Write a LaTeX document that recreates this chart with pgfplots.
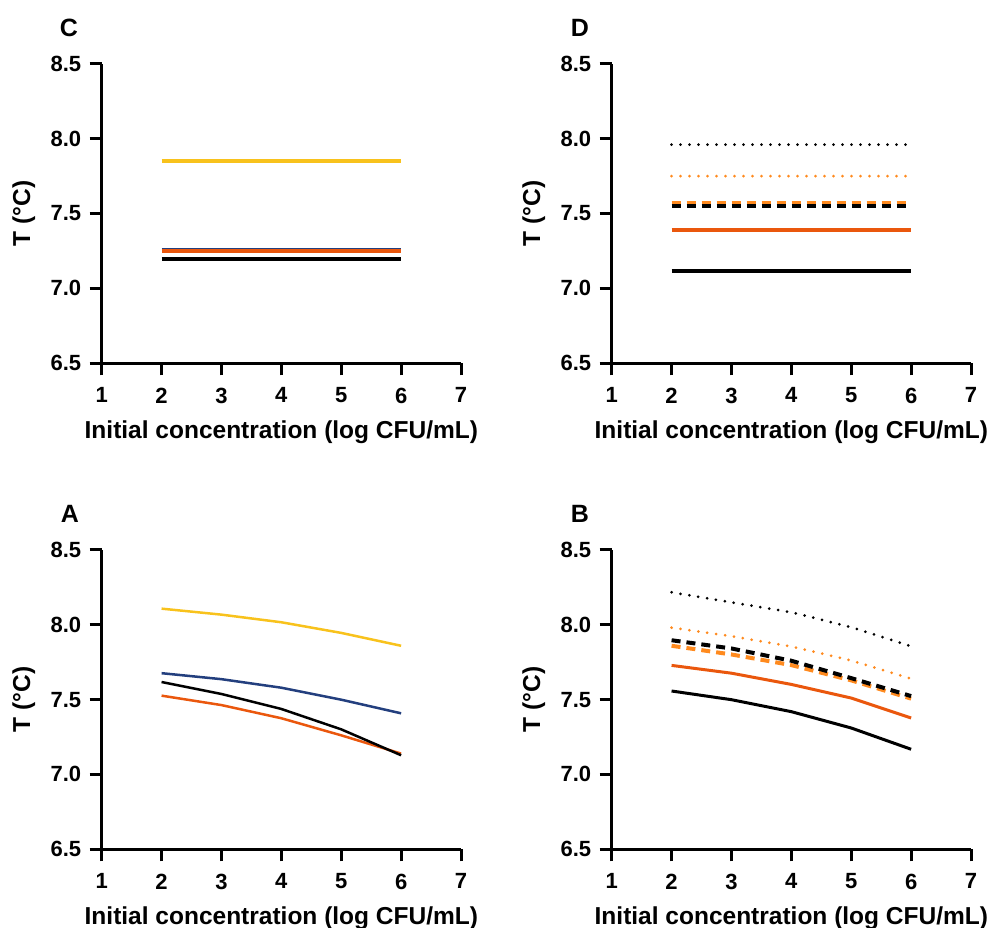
\documentclass[border=0pt]{standalone}
\usepackage{fontspec}
\setmainfont{Liberation Sans}
\usepackage{pgfplots}
\pgfplotsset{compat=1.18}
\definecolor{cyellow}{HTML}{F8C21C}
\definecolor{cnavy}{HTML}{233F7E}
\definecolor{cdorange}{HTML}{EA570D}
\definecolor{clorange}{HTML}{FF8A1E}
\pgfplotsset{panel/.style={
  scale only axis, width=359.3pt, height=299.5pt,
  xmin=1, xmax=7, ymin=6.5, ymax=8.5,
  axis x line*=bottom, axis y line*=left,
  axis line style={line width=3pt, -},
  xtick={1,...,7}, ytick={6.5,7,7.5,8,8.5},
  yticklabel style={/pgf/number format/fixed, /pgf/number format/fixed zerofill, /pgf/number format/precision=1},
  /pgf/number format/assume math mode=true,
  tick align=outside, major tick length=12pt,
  every tick/.style={line width=3pt, black},
  every major tick/.style={line width=3pt, black},
  xtick style={line width=3pt, black},
  ytick style={line width=3pt, black},
  ticklabel style={font=\bfseries\fontsize{22}{22}\selectfont},
  yticklabel style={xshift=-5pt},
  xticklabel style={yshift=-9pt},
  label style={font=\bfseries\fontsize{24.5}{24.5}\selectfont},
  xlabel={Initial concentration (log CFU/mL)},
  ylabel={T (°C)},
  x label style={at={(axis description cs:0.5,-0.23)}, anchor=center},
  y label style={at={(axis description cs:-0.217,0.5)}, anchor=center},
}}
\tikzset{
  dotl/.style={line width=3pt, line cap=round, dash pattern=on 0pt off 9pt},
  dashl/.style={line width=4pt, dash pattern=on 9pt off 6pt},
}
\begin{document}
\begin{tikzpicture}
\useasboundingbox (0,0) rectangle (994pt,928pt);
% Panel C
\begin{axis}[panel, at={(101.7pt,564.7pt)}, anchor=south west]
\addplot[cyellow, line width=3.5pt] coordinates {(2,7.85) (6,7.85)};
\addplot[cnavy, line width=3.5pt] coordinates {(2,7.26) (6,7.26)};
\addplot[cdorange, line width=3.5pt] coordinates {(2,7.25) (6,7.25)};
\addplot[black, line width=3.5pt] coordinates {(2,7.195) (6,7.195)};
\end{axis}
% Panel D
\begin{axis}[panel, at={(611.7pt,564.7pt)}, anchor=south west]
\addplot[black, dotl] coordinates {(2,7.96) (6,7.96)};
\addplot[clorange, dotl] coordinates {(2,7.75) (6,7.75)};
\addplot[clorange, dashl] coordinates {(2,7.57) (6,7.57)};
\addplot[black, dashl] coordinates {(2,7.548) (6,7.548)};
\addplot[cdorange, line width=3.5pt] coordinates {(2,7.39) (6,7.39)};
\addplot[black, line width=3.5pt] coordinates {(2,7.115) (6,7.115)};
\end{axis}
% Panel A
\begin{axis}[panel, at={(101.7pt,78.7pt)}, anchor=south west]
\addplot[cyellow, line width=2.5pt] coordinates {(2,8.107) (3,8.067) (4,8.016) (5,7.945) (6,7.859)};
\addplot[cnavy, line width=2.5pt] coordinates {(2,7.676) (3,7.636) (4,7.579) (5,7.499) (6,7.408)};
\addplot[cdorange, line width=2.5pt] coordinates {(2,7.526) (3,7.463) (4,7.375) (5,7.261) (6,7.139)};
\addplot[black, line width=2.5pt] coordinates {(2,7.617) (3,7.537) (4,7.437) (5,7.301) (6,7.128)};
\end{axis}
% Panel B
\begin{axis}[panel, at={(611.7pt,78.7pt)}, anchor=south west]
\addplot[black, dotl] coordinates {(2,8.216) (3,8.149) (4,8.083) (5,7.983) (6,7.856)};
\addplot[clorange, dotl] coordinates {(2,7.98) (3,7.923) (4,7.854) (5,7.761) (6,7.639)};
\addplot[clorange, dashl] coordinates {(2,7.859) (3,7.801) (4,7.730) (5,7.628) (6,7.506)};
\addplot[black, dashl] coordinates {(2,7.896) (3,7.841) (4,7.759) (5,7.643) (6,7.523)};
\addplot[cdorange, line width=3pt] coordinates {(2,7.728) (3,7.676) (4,7.601) (5,7.510) (6,7.377)};
\addplot[black, line width=3pt] coordinates {(2,7.557) (3,7.499) (4,7.419) (5,7.310) (6,7.168)};
\end{axis}
\node[font=\bfseries\fontsize{25}{25}\selectfont] at (69pt,900pt) {C};
\node[font=\bfseries\fontsize{25}{25}\selectfont] at (580pt,900pt) {D};
\node[font=\bfseries\fontsize{25}{25}\selectfont] at (70pt,414pt) {A};
\node[font=\bfseries\fontsize{25}{25}\selectfont] at (580pt,414pt) {B};
\end{tikzpicture}
\end{document}
